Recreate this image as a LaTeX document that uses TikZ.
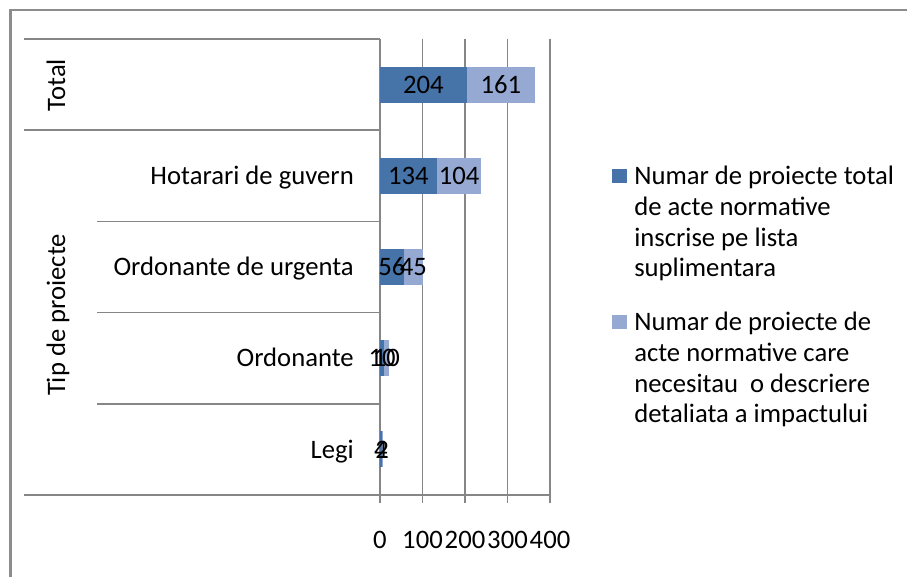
\documentclass[tikz,border=0pt]{standalone}
\usepackage{fontspec}
\setmainfont{Carlito}
\usetikzlibrary{positioning}
\definecolor{serieA}{RGB}{70,115,168}
\definecolor{serieB}{RGB}{149,169,210}
\definecolor{gridgray}{RGB}{134,134,134}
\definecolor{framegray}{RGB}{140,140,140}

\begin{document}
\begin{tikzpicture}[
  x=0.75pt, y=-0.75pt,
  font=\fontsize{20}{23}\selectfont,
  % --- Estilos ---
  frame/.style={draw=framegray, line width=2pt},
  sepline/.style={draw=gridgray, line width=1.3pt},
  gridline/.style={draw=gridgray, line width=1.3pt},
  serA/.style={fill=serieA},
  serB/.style={fill=serieB},
  valtxt/.style={inner sep=0pt, text height=18pt, text depth=5.1pt},
  cattxt/.style={valtxt, anchor=east},
  keybox/.style={rectangle, minimum size=10.9pt, inner sep=0pt},
  keytxt/.style={anchor=north west, align=left, inner sep=0pt}
]

\useasboundingbox (0,0) rectangle (907,577);

% ---- MARCO ----
\draw[frame] (907,10) -- (10.5,10) -- (10.5,577);

% ---- EJE DE CATEGORIAS ----
\draw[sepline] (24,39) -- (380,39);
\draw[sepline] (24,130.2) -- (380,130.2);
\draw[sepline] (97,221.4) -- (380,221.4);
\draw[sepline] (97,312.6) -- (380,312.6);
\draw[sepline] (97,403.8) -- (380,403.8);
\draw[sepline] (24,495) -- (380,495);

\node[valtxt, rotate=90] (gTotal) at (56.5,85) {Total};
\node[valtxt, rotate=90] (gTip) at (56.5,315) {Tip de proiecte};

\node[cattxt] (cHG) at (354,175.8) {Hotarari de guvern};
\node[cattxt] (cOU) at (354,267) {Ordonante de urgenta};
\node[cattxt] (cO) at (354,358.2) {Ordonante};
\node[cattxt] (cL) at (354,449.4) {Legi};

% ---- AREA DE DATOS (x en unidades) ----
\begin{scope}[shift={(380,0)}, x=0.31875pt]
  % rejilla y eje de valores
  \draw[gridline] (0,39) -- (0,503);
  \draw[gridline] (100,39) -- (100,503);
  \draw[gridline] (200,39) -- (200,503);
  \draw[gridline] (300,39) -- (300,503);
  \draw[gridline] (400,39) -- (400,503);
  \draw[gridline] (0,495) -- (400,495);

  \node[valtxt] (t0) at (0,540) {0};
  \node[valtxt] (t100) at (100,540) {100};
  \node[valtxt] (t200) at (200,540) {200};
  \node[valtxt] (t300) at (300,540) {300};
  \node[valtxt] (t400) at (400,540) {400};

  % Total
  \fill[serA] (0,66.6) rectangle (204,102.6);
  \fill[serB] (204,66.6) rectangle (365,102.6);
  \node[valtxt] (vTA) at (102,84.6) {204};
  \node[valtxt] (vTB) at (284.5,84.6) {161};

  % Hotarari de guvern
  \fill[serA] (0,157.8) rectangle (134,193.8);
  \fill[serB] (134,157.8) rectangle (238,193.8);
  \node[valtxt] (vHA) at (67,175.8) {134};
  \node[valtxt] (vHB) at (186,175.8) {104};

  % Ordonante de urgenta
  \fill[serA] (0,249) rectangle (56,285);
  \fill[serB] (56,249) rectangle (101,285);
  \node[valtxt] (vUA) at (28,267) {56};
  \node[valtxt] (vUB) at (78.5,267) {45};

  % Ordonante
  \fill[serA] (0,340.2) rectangle (10,376.2);
  \fill[serB] (10,340.2) rectangle (20,376.2);
  \node[valtxt] (vOA) at (5,358.2) {10};
  \node[valtxt] (vOB) at (15,358.2) {10};

  % Legi
  \fill[serA] (0,431.4) rectangle (4,467.4);
  \fill[serB] (4,431.4) rectangle (6,467.4);
  \node[valtxt] (vLA) at (2,449.4) {4};
  \node[valtxt] (vLB) at (5,449.4) {2};
\end{scope}

% ---- LEYENDA ----
\node[keybox, fill=serieA] (kA) at (619.5,176) {};
\node[keytxt] (kAt) at (634,166) {Numar de proiecte total\\de acte normative\\inscrise pe lista\\suplimentara};
\node[keybox, fill=serieB] (kB) at (619.5,322) {};
\node[keytxt] (kBt) at (634,312) {Numar de proiecte de\\acte normative care\\necesitau\ \ o descriere\\detaliata a impactului};

\end{tikzpicture}
\end{document}
